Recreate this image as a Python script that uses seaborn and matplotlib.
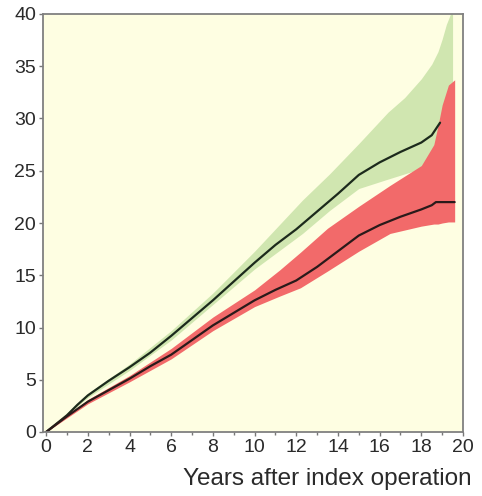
import numpy as np
import pandas as pd
import matplotlib
matplotlib.use("Agg")
import matplotlib.pyplot as plt
import seaborn as sns

# Upper (green) group
green_x = [0, 0.5, 1, 1.5, 2, 3, 4, 5, 6, 7, 8, 9, 10, 11, 12, 13, 14, 15, 16, 17, 18, 18.5, 18.9]
green_y = [0, 0.8, 1.6, 2.6, 3.5, 4.9, 6.2, 7.6, 9.2, 10.9, 12.6, 14.4, 16.2, 17.9, 19.4, 21.1, 22.8, 24.6, 25.8, 26.8, 27.7, 28.4, 29.6]
green_band_x = [0, 2, 4, 6, 8, 10, 12.3, 13.6, 15, 16.4, 17.2, 18, 18.5, 18.8, 19.0, 19.2, 19.4, 19.5]
green_lo = [0, 3.3, 5.9, 8.8, 12.2, 15.6, 19.0, 21.2, 23.3, 24.2, 24.7, 25.2, 26.0, 26.8, 27.0, 27.0, 27.0, 27.0]
green_hi = [0, 3.7, 6.5, 9.7, 13.3, 17.3, 22.2, 24.7, 27.6, 30.6, 32.0, 33.8, 35.2, 36.4, 37.6, 39.0, 40.0, 40.0]

# Lower (red) group
red_x = [0, 1, 2, 3, 4, 5, 6, 7, 8, 9, 10, 11, 12, 13, 14, 15, 16, 17, 18, 18.5, 18.7, 19.6]
red_y = [0, 1.5, 2.9, 4.0, 5.1, 6.3, 7.4, 8.8, 10.2, 11.4, 12.6, 13.6, 14.5, 15.8, 17.3, 18.8, 19.8, 20.6, 21.3, 21.7, 22.0, 22.0]
red_band_x = [0, 2, 4, 6, 8, 10, 11.2, 12.2, 13.5, 15, 16.5, 18, 18.6, 18.8, 19.0, 19.3, 19.6]
red_lo = [0, 2.7, 4.8, 7.0, 9.7, 12.0, 13.0, 13.8, 15.4, 17.3, 19.0, 19.7, 19.9, 19.9, 20.0, 20.1, 20.1]
red_hi = [0, 3.1, 5.4, 8.0, 11.0, 13.6, 15.5, 17.2, 19.5, 21.6, 23.6, 25.5, 27.5, 29.3, 31.3, 33.2, 33.7]

x_ticks = [0, 2, 4, 6, 8, 10, 12, 14, 16, 18, 20]
y_ticks = [0, 5, 10, 15, 20, 25, 30, 35, 40]
x_label = "Years after index operation"

sns.set_theme(style="white")
plt.rcParams['font.family'] = ['Liberation Sans', 'DejaVu Sans']

fig = plt.figure(figsize=(4.82, 4.96), dpi=100)
ax = fig.add_axes([43/482, 1 - 432/496, (463-43)/482, (432-14)/496])
ax.set_facecolor("#fefee2")

ax.fill_between(green_band_x, green_lo, green_hi, color="#d0e6b0", lw=0)
ax.fill_between(red_band_x, red_lo, red_hi, color="#f26a6a", lw=0)

df_g = pd.DataFrame({"x": green_x, "y": green_y})
df_r = pd.DataFrame({"x": red_x, "y": red_y})
sns.lineplot(data=df_g, x="x", y="y", ax=ax, color="#1c2a1c", lw=1.6, sort=False)
sns.lineplot(data=df_r, x="x", y="y", ax=ax, color="#2a1a1a", lw=1.6, sort=False)

ax.set_xlim(-0.15, 20)
ax.set_ylim(0, 40)
ax.set_xticks(x_ticks)
ax.set_xticks(np.arange(0, 21, 1), minor=True)
ax.set_yticks(y_ticks)
ax.set_xticklabels([str(t) for t in x_ticks])
ax.set_yticklabels([str(t) for t in y_ticks])
ax.tick_params(axis="both", which="both", direction="out", length=3, width=1,
               color="#777777", labelsize=14, labelcolor="#2a2a2a", pad=2,
               bottom=True, left=True)
ax.tick_params(axis="x", which="minor", length=2)
for s in ax.spines.values():
    s.set_color("#808080")
    s.set_linewidth(1.3)
ax.set_xlabel(x_label, loc="right", fontsize=17.5, color="#2a2a2a")
ax.set_ylabel("")
ax.xaxis.set_label_coords(1.02, -0.085)
ax.xaxis.label.set_horizontalalignment("right")

fig.savefig("out.png", dpi=100, facecolor="white")
